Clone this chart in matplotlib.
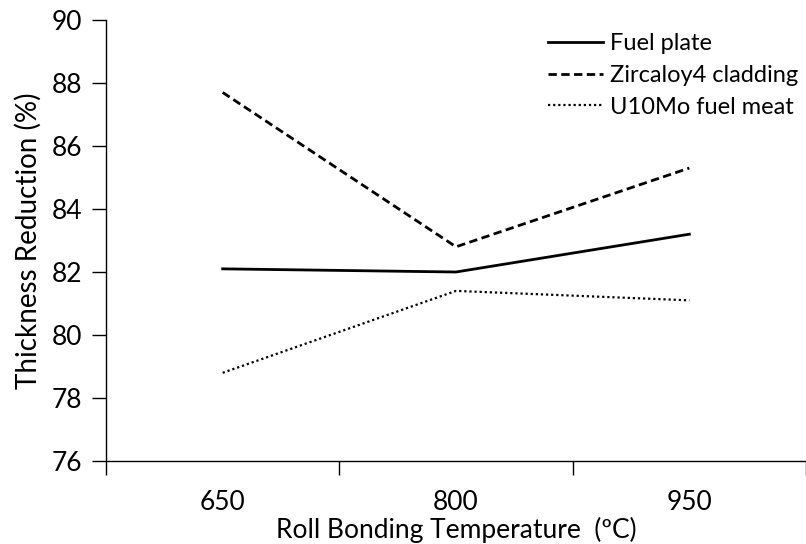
import matplotlib
matplotlib.use("Agg")
import matplotlib.pyplot as plt

# Roll bonding temperatures (categories)
temperatures = ["650", "800", "950"]

# Thickness reduction (%) for each component
fuel_plate = [82.1, 82.0, 83.2]
zircaloy_cladding = [87.7, 82.8, 85.3]
u10mo_meat = [78.8, 81.4, 81.1]

plt.rcParams["font.family"] = ["Lato", "DejaVu Sans"]

fig = plt.figure(figsize=(8.06, 5.44), dpi=100)
ax = fig.add_axes([106 / 806, 83 / 544, 1 - 106 / 806, 441 / 544])

x = list(range(len(temperatures)))
ax.plot(x, fuel_plate, color="black", linestyle="-", linewidth=2.0, label="Fuel plate")
ax.plot(x, zircaloy_cladding, color="black", linestyle=(0, (3, 1.6)), linewidth=2.0,
        label="Zircaloy4 cladding")
ax.plot(x, u10mo_meat, color="black", linestyle=(0, (1, 1.3)), linewidth=1.6,
        label="U10Mo fuel meat")

ax.set_ylim(76, 90)
ax.set_yticks(range(76, 91, 2))
ax.set_xlim(-0.5, 2.435)
# category axis: ticks sit between the categories, labels at the centres
ax.set_xticks([-0.5, 0.5, 1.5, 2.5])
ax.set_xticklabels([])
ax.set_xticks(x, minor=True)
ax.set_xticklabels(temperatures, minor=True)
ax.tick_params(axis="x", which="minor", length=0, pad=21, labelsize=19)
ax.tick_params(axis="x", which="major", length=10, width=1.0, direction="out")
ax.tick_params(axis="y", length=10, width=1.0, direction="out", labelsize=19, pad=7)

for side in ["top", "right"]:
    ax.spines[side].set_visible(False)
ax.spines["left"].set_linewidth(1.0)
ax.spines["bottom"].set_linewidth(1.0)

ax.set_xlabel("Roll Bonding Temperature  (ºC)", fontsize=19, labelpad=1)
ax.set_ylabel("Thickness Reduction (%)", fontsize=20, labelpad=7)

ax.legend(loc="upper left", bbox_to_anchor=(539 / 806, 1 - 24 / 544),
          bbox_transform=fig.transFigure, frameon=False, fontsize=17,
          handlelength=2.3, handletextpad=0.3, labelspacing=0.45,
          borderaxespad=0)

fig.savefig("out.png", dpi=100)
